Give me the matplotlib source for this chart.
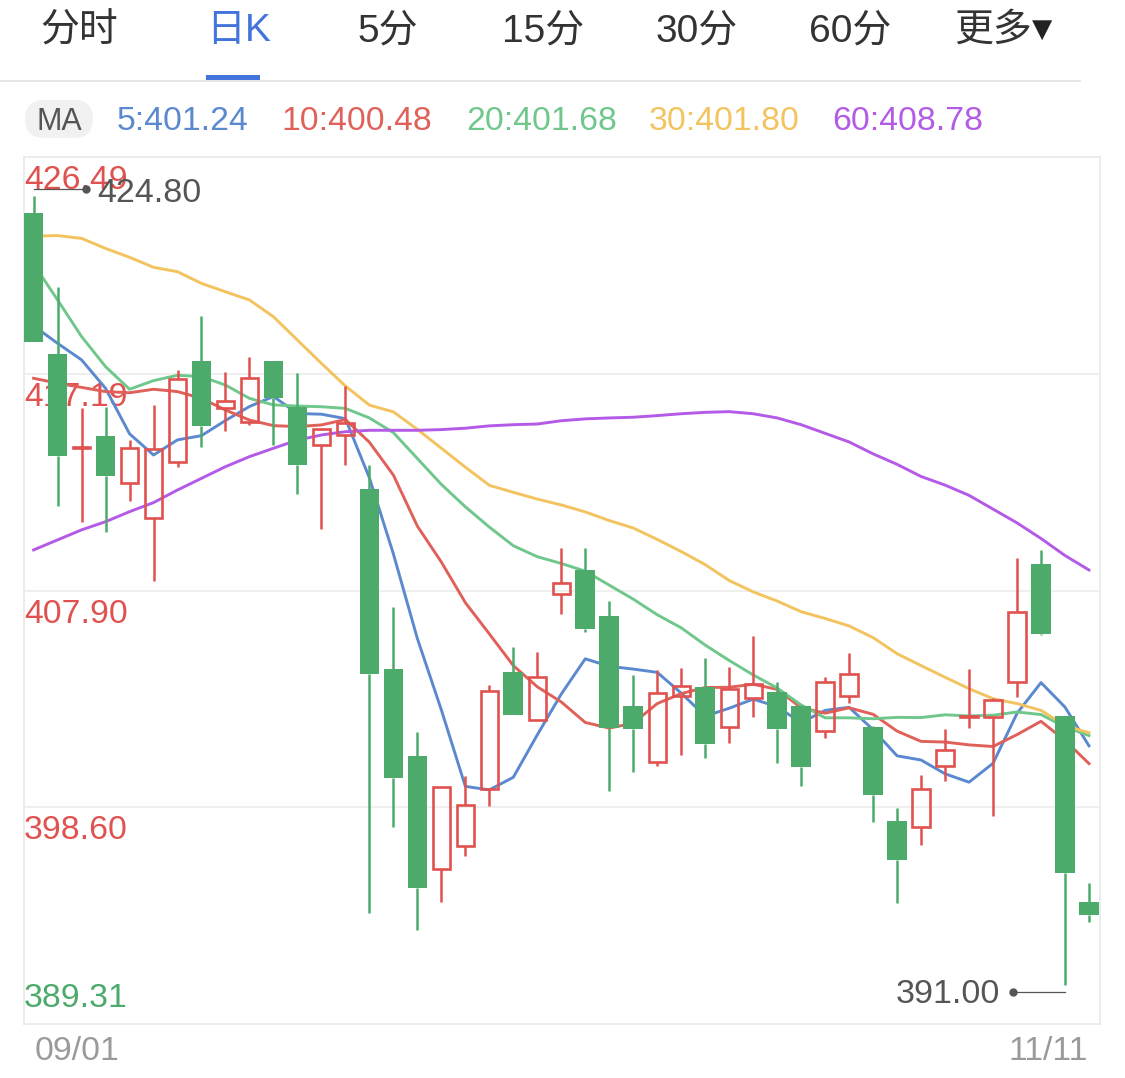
import numpy as np
import matplotlib
matplotlib.use('Agg')
from matplotlib import pyplot as plt
from matplotlib.patches import Rectangle, FancyBboxPatch
from matplotlib.transforms import offset_copy

plt.rcParams['font.family'] = ['Liberation Sans', 'Noto Sans CJK SC', 'DejaVu Sans']

W, H = 1125, 1078

# header / labels
tabs = ['分时', '日K', '5分', '15分', '30分', '60分', '更多']
tab_x = [40, 206, 357, 502, 656, 809, 954]
active_tab = '日K'
date_labels = ['09/01', '11/11']
y_ticks = [426.49, 417.19, 407.90, 398.60, 389.31]
y_labels = ['426.49', '417.19', '407.90', '398.60', '389.31']

# daily candles, 09/01 .. 11/11
opens = [424.09, 418.04, 414.00, 414.54, 412.50, 411.00, 413.42, 417.74, 415.71, 415.14,
         417.76, 415.78, 414.14, 414.57, 412.26, 404.55, 400.81, 395.95, 396.94, 399.38,
         404.40, 402.36, 407.77, 408.76, 406.79, 402.93, 400.53, 403.37, 403.77, 402.06,
         403.27, 403.53, 402.94, 401.86, 403.37, 402.04, 398.03, 397.76, 400.36, 402.48,
         402.48, 403.96, 409.03, 402.53, 394.56]
highs = [424.80, 420.93, 415.73, 415.77, 414.35, 415.86, 417.36, 419.67, 417.28, 417.90,
         417.76, 417.24, 414.85, 416.67, 413.30, 407.21, 401.82, 399.49, 399.94, 403.84,
         405.48, 405.25, 409.72, 409.72, 407.43, 404.26, 404.48, 404.58, 404.99, 404.64,
         405.95, 403.96, 402.98, 404.20, 405.22, 402.10, 398.57, 399.97, 401.94, 404.55,
         403.31, 409.28, 409.62, 402.53, 395.35]
lows = [418.56, 411.52, 410.84, 410.42, 411.74, 408.32, 413.18, 414.07, 414.74, 415.00,
        414.14, 412.03, 410.53, 413.28, 394.07, 397.76, 393.36, 394.54, 396.50, 398.64,
        402.56, 402.36, 406.88, 406.10, 399.31, 400.12, 400.39, 400.86, 400.71, 401.35,
        402.48, 400.50, 399.50, 401.57, 403.09, 397.99, 394.51, 396.99, 399.72, 402.01,
        398.25, 403.34, 406.00, 391.00, 393.70]
closes = [418.56, 413.67, 414.05, 412.82, 414.02, 413.97, 416.96, 414.95, 416.04, 417.03,
          416.14, 413.28, 414.81, 415.07, 404.33, 399.86, 395.13, 399.49, 398.69, 403.59,
          402.56, 404.21, 408.24, 406.25, 402.00, 401.94, 403.52, 403.81, 401.30, 403.68,
          403.89, 401.94, 400.32, 403.98, 404.30, 399.13, 396.33, 399.40, 401.05, 402.50,
          403.19, 406.99, 406.04, 395.78, 393.99]

# moving averages
ma5 = [419.25, 418.50, 417.79, 416.57, 414.62, 413.71, 414.36, 414.54, 415.19, 415.79,
       416.22, 415.49, 415.46, 415.27, 412.73, 409.47, 405.84, 402.78, 399.50, 399.35,
       399.89, 401.71, 403.46, 404.97, 404.65, 404.53, 404.39, 403.50, 402.51, 402.85,
       403.24, 402.92, 402.23, 402.76, 402.89, 401.93, 400.81, 400.63, 400.04, 399.68,
       400.49, 402.63, 403.95, 402.90, 401.24]
ma10 = [417.00, 416.79, 416.61, 416.43, 416.38, 416.53, 416.43, 416.14, 415.64, 415.21,
        414.97, 414.93, 415.00, 415.23, 414.26, 412.85, 410.66, 409.12, 407.38, 406.04,
        404.68, 403.77, 403.12, 402.24, 402.00, 402.21, 403.05, 403.48, 403.74, 403.75,
        403.88, 403.66, 402.87, 402.64, 402.87, 402.59, 401.87, 401.43, 401.40, 401.28,
        401.21, 401.72, 402.29, 401.47, 400.48]
ma20 = [421.90, 420.36, 418.79, 417.50, 416.53, 416.90, 417.13, 417.07, 416.71, 416.14,
        415.86, 415.81, 415.78, 415.71, 415.30, 414.67, 413.56, 412.45, 411.49, 410.62,
        409.82, 409.35, 409.06, 408.73, 408.13, 407.53, 406.86, 406.30, 405.56, 404.90,
        404.28, 403.72, 402.99, 402.44, 402.44, 402.40, 402.46, 402.45, 402.57, 402.52,
        402.55, 402.69, 402.58, 402.05, 401.68]
ma30 = [423.10, 423.12, 423.00, 422.57, 422.19, 421.76, 421.57, 421.07, 420.71, 420.36,
        419.64, 418.64, 417.64, 416.67, 415.85, 415.56, 414.81, 414.00, 413.19, 412.41,
        412.11, 411.82, 411.57, 411.27, 410.90, 410.58, 410.09, 409.57, 409.01, 408.33,
        407.84, 407.45, 406.99, 406.70, 406.38, 405.88, 405.19, 404.68, 404.18, 403.69,
        403.26, 403.05, 402.76, 402.11, 401.80]
ma60 = [409.64, 410.07, 410.50, 410.85, 411.28, 411.67, 412.21, 412.71, 413.21, 413.64,
        414.00, 414.35, 414.57, 414.71, 414.77, 414.77, 414.77, 414.80, 414.86, 414.96,
        415.01, 415.04, 415.18, 415.26, 415.30, 415.33, 415.40, 415.48, 415.54, 415.57,
        415.48, 415.30, 415.01, 414.64, 414.27, 413.76, 413.31, 412.79, 412.42, 411.98,
        411.39, 410.80, 410.13, 409.40, 408.78]
ma_periods = [5, 10, 20, 30, 60]
ma_colors = ['#5B89CF', '#E0605A', '#70C78C', '#F2C35E', '#B35BE6']
ma_x = [117, 281, 466, 649, 832]

RED = '#E0524F'
GREEN = '#4CAA6B'
BLUE_TAB = '#4274DC'

fig = plt.figure(figsize=(W / 100, H / 100), dpi=100)

# overlay in pixel coords for the header
ov = fig.add_axes([0, 0, 1, 1], zorder=0)
ov.set_xlim(0, W)
ov.set_ylim(H, 0)
ov.axis('off')

for lab, x in zip(tabs, tab_x):
    col = BLUE_TAB if lab == active_tab else '#333333'
    ov.text(x, 31, lab, fontsize=28, color=col, ha='left', va='center')
ov.text(1032, 30, '▼', fontsize=19, color='#222222', ha='left', va='center',
        family=['DejaVu Sans'])
ov.add_patch(Rectangle((206, 75), 54, 5, fc=BLUE_TAB, ec='none'))
ov.plot([0, 1080], [81, 81], color='#E6E6E6', lw=1.4)

ov.add_patch(FancyBboxPatch((25, 100), 68, 38, boxstyle='round,pad=0,rounding_size=19',
                            fc='#F1F1F1', ec='none'))
ov.text(59, 130, 'MA', fontsize=22, color='#555555', ha='center', va='baseline')
mas = [ma5, ma10, ma20, ma30, ma60]
for p, ma, c, x in zip(ma_periods, mas, ma_colors, ma_x):
    ov.text(x, 130, f'{p}:{ma[-1]:.2f}', fontsize=24.3, color=c, ha='left', va='baseline')

ov.text(35, 1060, date_labels[0], fontsize=24.3, color='#9A9A9A', ha='left', va='baseline')
ov.text(1088, 1060, date_labels[1], fontsize=24.3, color='#9A9A9A', ha='right', va='baseline')

# main chart
ax = fig.add_axes([24 / W, 1 - 1024 / H, 1076 / W, 867 / H], zorder=1)
n = len(closes)
xs = np.arange(n)
ax.set_xlim(-0.40, 44.46)
ax.set_ylim(y_ticks[-1], y_ticks[0])
ax.set_xticks([])
ax.set_yticks([])
for s in ax.spines.values():
    s.set_color('#EBEBEB')
    s.set_linewidth(1.3)
for v in y_ticks[1:-1]:
    ax.axhline(v, color='#EEEEEE', lw=1.3, zorder=0)

for v, lab in zip(y_ticks, y_labels):
    if v == y_ticks[-1]:
        dy, col = 17, GREEN
    else:
        dy, col = -32, RED
    ax.annotate(lab, xy=(0, v), xycoords=('axes fraction', 'data'), xytext=(0, dy),
                textcoords='offset pixels', ha='left', va='baseline', fontsize=24.3,
                color=col, zorder=1)

for ma, c in zip(mas, ma_colors):
    ax.plot(xs, ma, color=c, lw=2.1, zorder=2, solid_joinstyle='round')

for i in range(n):
    o, h, l, c = opens[i], highs[i], lows[i], closes[i]
    up = c >= o
    col = RED if up else GREEN
    top, bot = max(o, c), min(o, c)
    ax.plot([i, i], [top, h], color=col, lw=1.8, solid_capstyle='butt', zorder=3)
    ax.plot([i, i], [l, bot], color=col, lw=1.8, solid_capstyle='butt', zorder=3)
    if up:
        ax.add_patch(Rectangle((i - 0.36, bot), 0.72, max(top - bot, 0.02), fc='none',
                               ec=col, lw=1.9, zorder=4))
    else:
        ax.add_patch(Rectangle((i - 0.41, bot), 0.82, top - bot, fc=col, ec='none', zorder=4))

# high / low markers
imax = int(np.argmax(highs))
imin = int(np.argmin(lows))
seg = 2.17
t_up = offset_copy(ax.transData, fig=fig, x=0, y=7, units='dots')
t_dn = offset_copy(ax.transData, fig=fig, x=0, y=-7.7, units='dots')
ax.plot([imax, imax + seg], [highs[imax]] * 2, color='#555555', lw=0.9, transform=t_up,
        zorder=6, clip_on=False)
ax.plot([imax + seg], [highs[imax]], 'o', color='#555555', ms=5, transform=t_up, zorder=6)
ax.annotate(f'{highs[imax]:.2f}', xy=(imax + seg, highs[imax]), xytext=(12, 7 - 12.3),
            textcoords='offset pixels', ha='left', va='baseline', fontsize=24.5,
            color='#555555', zorder=6)
ax.plot([imin - seg, imin], [lows[imin]] * 2, color='#555555', lw=0.9, transform=t_dn,
        zorder=6)
ax.plot([imin - seg], [lows[imin]], 'o', color='#555555', ms=5, transform=t_dn, zorder=6)
ax.annotate(f'{lows[imin]:.2f}', xy=(imin - seg, lows[imin]), xytext=(-13, -7.7 - 11),
            textcoords='offset pixels', ha='right', va='baseline', fontsize=24.5,
            color='#555555', zorder=6)

fig.savefig('out.png', dpi=100)
